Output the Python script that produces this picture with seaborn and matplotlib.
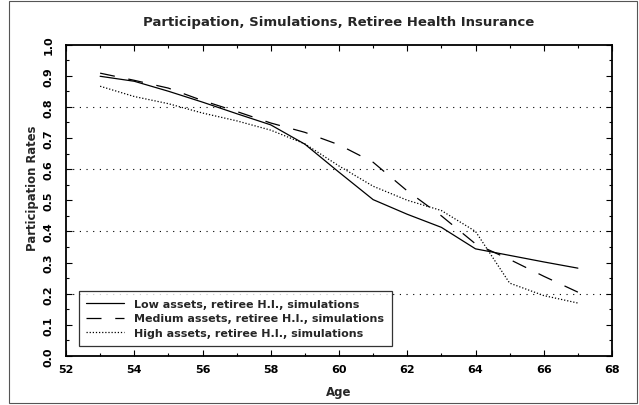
import numpy as np
import pandas as pd
import matplotlib
matplotlib.use("Agg")
import matplotlib.pyplot as plt
from matplotlib.ticker import MultipleLocator
from matplotlib.patches import Rectangle
import seaborn as sns

# ages on the x axis
ages = list(range(53, 68))

# participation rates
low_assets = [0.898, 0.882, 0.850, 0.815, 0.778, 0.742, 0.680, 0.590, 0.502,
              0.455, 0.413, 0.344, 0.323, 0.302, 0.282]
medium_assets = [0.908, 0.885, 0.860, 0.820, 0.785, 0.748, 0.718, 0.678, 0.622,
                 0.530, 0.450, 0.360, 0.310, 0.256, 0.205]
high_assets = [0.866, 0.833, 0.810, 0.780, 0.755, 0.725, 0.681, 0.610, 0.545,
               0.500, 0.467, 0.400, 0.234, 0.194, 0.170]

labels = ["Low assets, retiree H.I., simulations",
          "Medium assets, retiree H.I., simulations",
          "High assets, retiree H.I., simulations"]

df = pd.DataFrame({"Age": ages, "low": low_assets, "medium": medium_assets, "high": high_assets})

sns.set_style("ticks")
plt.rcParams['font.family'] = ['DejaVu Sans']
plt.rcParams['font.weight'] = 'bold'

fig = plt.figure(figsize=(6.39, 4.06), dpi=100)
W, H = 639, 406
ax = fig.add_axes([66 / W, 1 - 357 / H, (612 - 66) / W, (357 - 45.5) / H])

# dotted horizontal grid
for yv in [0.2, 0.4, 0.6, 0.8]:
    ax.axhline(yv, color="black", lw=0.8, linestyle=(0, (1, 5)), zorder=1)

sns.lineplot(data=df, x="Age", y="low", ax=ax, color="black", lw=0.9, label=labels[0])
sns.lineplot(data=df, x="Age", y="medium", ax=ax, color="black", lw=0.9,
             linestyle=(0, (12, 11)), label=labels[1])
sns.lineplot(data=df, x="Age", y="high", ax=ax, color="black", lw=0.9,
             linestyle=(0, (1, 1.5)), label=labels[2])

ax.set_xlim(52, 68)
ax.set_ylim(0, 1)
ax.xaxis.set_major_locator(MultipleLocator(2))
ax.xaxis.set_minor_locator(MultipleLocator(1))
ax.yaxis.set_minor_locator(MultipleLocator(0.05))
ax.set_yticks(np.arange(0, 1.01, 0.1))
ax.set_yticklabels([f"{v:.1f}" for v in np.arange(0, 1.01, 0.1)], rotation=90, va="center")
ax.tick_params(which="both", direction="in", top=True, right=True, colors="black",
               labelsize=8, width=0.8)
ax.tick_params(which="major", length=4)
ax.tick_params(axis="x", which="major", pad=6)
ax.tick_params(axis="y", which="major", pad=9)
ax.tick_params(which="minor", length=2)
for s in ax.spines.values():
    s.set_linewidth(1.3)
    s.set_color("black")

ax.set_xlabel("Age", fontsize=8.5, fontweight="bold", labelpad=8)
ax.set_ylabel("Participation Rates", fontsize=8.4, fontweight="bold")
ax.yaxis.set_label_coords(-0.05, 0.54)
ax.set_title("Participation, Simulations, Retiree Health Insurance", fontsize=9.5,
             fontweight="bold", pad=14)

leg = ax.legend(loc="lower left", bbox_to_anchor=(0.023, 0.033), borderaxespad=0,
                fontsize=8, frameon=True, fancybox=False, handlelength=3.4,
                handletextpad=0.9, borderpad=0.7, labelspacing=0.4)
leg.get_frame().set_edgecolor("black")
leg.get_frame().set_linewidth(0.9)

# outer frame around the whole picture
fig.patches.append(Rectangle((9 / W, 2 / H), (637 - 9) / W, (404 - 2) / H,
                             transform=fig.transFigure, fill=False,
                             edgecolor="#555555", lw=0.8))

fig.savefig("out.png", dpi=100)
